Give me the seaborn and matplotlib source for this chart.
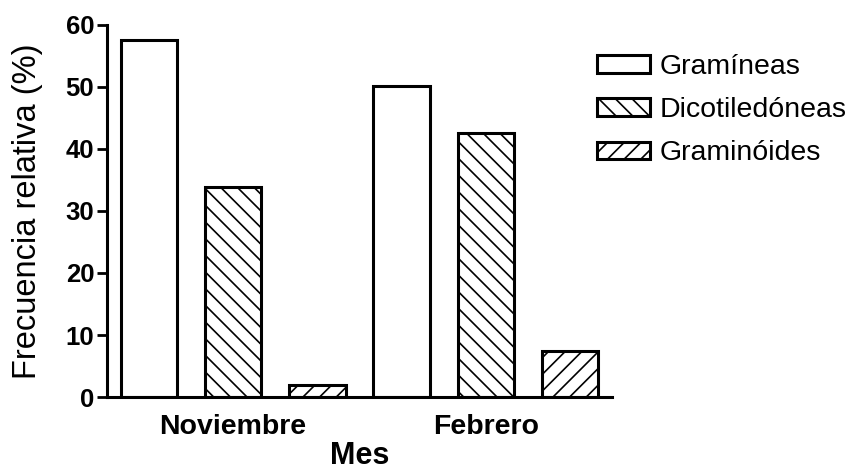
import numpy as np
import pandas as pd
import matplotlib
matplotlib.use("Agg")
import matplotlib.pyplot as plt
import seaborn as sns

# Relative frequency (%) of each plant group per sampling month
meses = ["Noviembre", "Febrero"]
grupos = ["Gramíneas", "Dicotiledóneas", "Graminóides"]
gramineas = [57.6, 50.1]
dicotiledoneas = [33.8, 42.5]
graminoides = [1.9, 7.4]
rayados = ["", "\\\\", "//"]

df = pd.DataFrame({
    "Mes": meses * 3,
    "Grupo": np.repeat(grupos, len(meses)),
    "Frecuencia": gramineas + dicotiledoneas + graminoides,
})

sns.set_style("ticks")
plt.rcParams["font.family"] = ["Liberation Sans", "DejaVu Sans"]
plt.rcParams["hatch.linewidth"] = 1.2
plt.rcParams["hatch.color"] = "black"
for k in ("text.color", "axes.labelcolor", "xtick.color", "ytick.color", "axes.edgecolor"):
    plt.rcParams[k] = "black"

fig = plt.figure(figsize=(8.54, 4.74), dpi=100)
ax = fig.add_axes([0.125, 0.1624, 0.592, 0.785])

sns.barplot(
    data=df, x="Mes", y="Frecuencia", hue="Grupo",
    order=meses, hue_order=grupos,
    palette={g: "white" for g in grupos}, saturation=1,
    edgecolor="black", linewidth=2.2,
    width=1.0, gap=0.33, legend=False, ax=ax,
)

for cont, h in zip(ax.containers, rayados):
    for barra in cont:
        barra.set_hatch(h)

ax.set_xlim(-0.5, 1.5)
ax.set_ylim(0, 60)
ax.set_yticks(np.arange(0, 61, 10))
sns.despine(ax=ax)
for s in ("left", "bottom"):
    ax.spines[s].set_linewidth(2.2)

ax.tick_params(axis="y", length=7, width=2, labelsize=18.5, pad=2)
ax.tick_params(axis="x", length=0, labelsize=20.5, pad=12)
for t in ax.get_yticklabels() + ax.get_xticklabels():
    t.set_fontweight("bold")

ax.set_ylabel("Frecuencia relativa (%)", fontsize=23.5, labelpad=16)
ax.set_xlabel("Mes", fontsize=22, fontweight="bold", labelpad=1)

fig.legend(
    handles=[c[0] for c in ax.containers], labels=grupos,
    loc="upper left", bbox_to_anchor=(0.699, 0.886),
    frameon=False, fontsize=20.5, borderpad=0, borderaxespad=0,
    handlelength=1.85, handleheight=0.55, handletextpad=0.35,
    labelspacing=0.6,
)

fig.savefig("out.png", dpi=100)
